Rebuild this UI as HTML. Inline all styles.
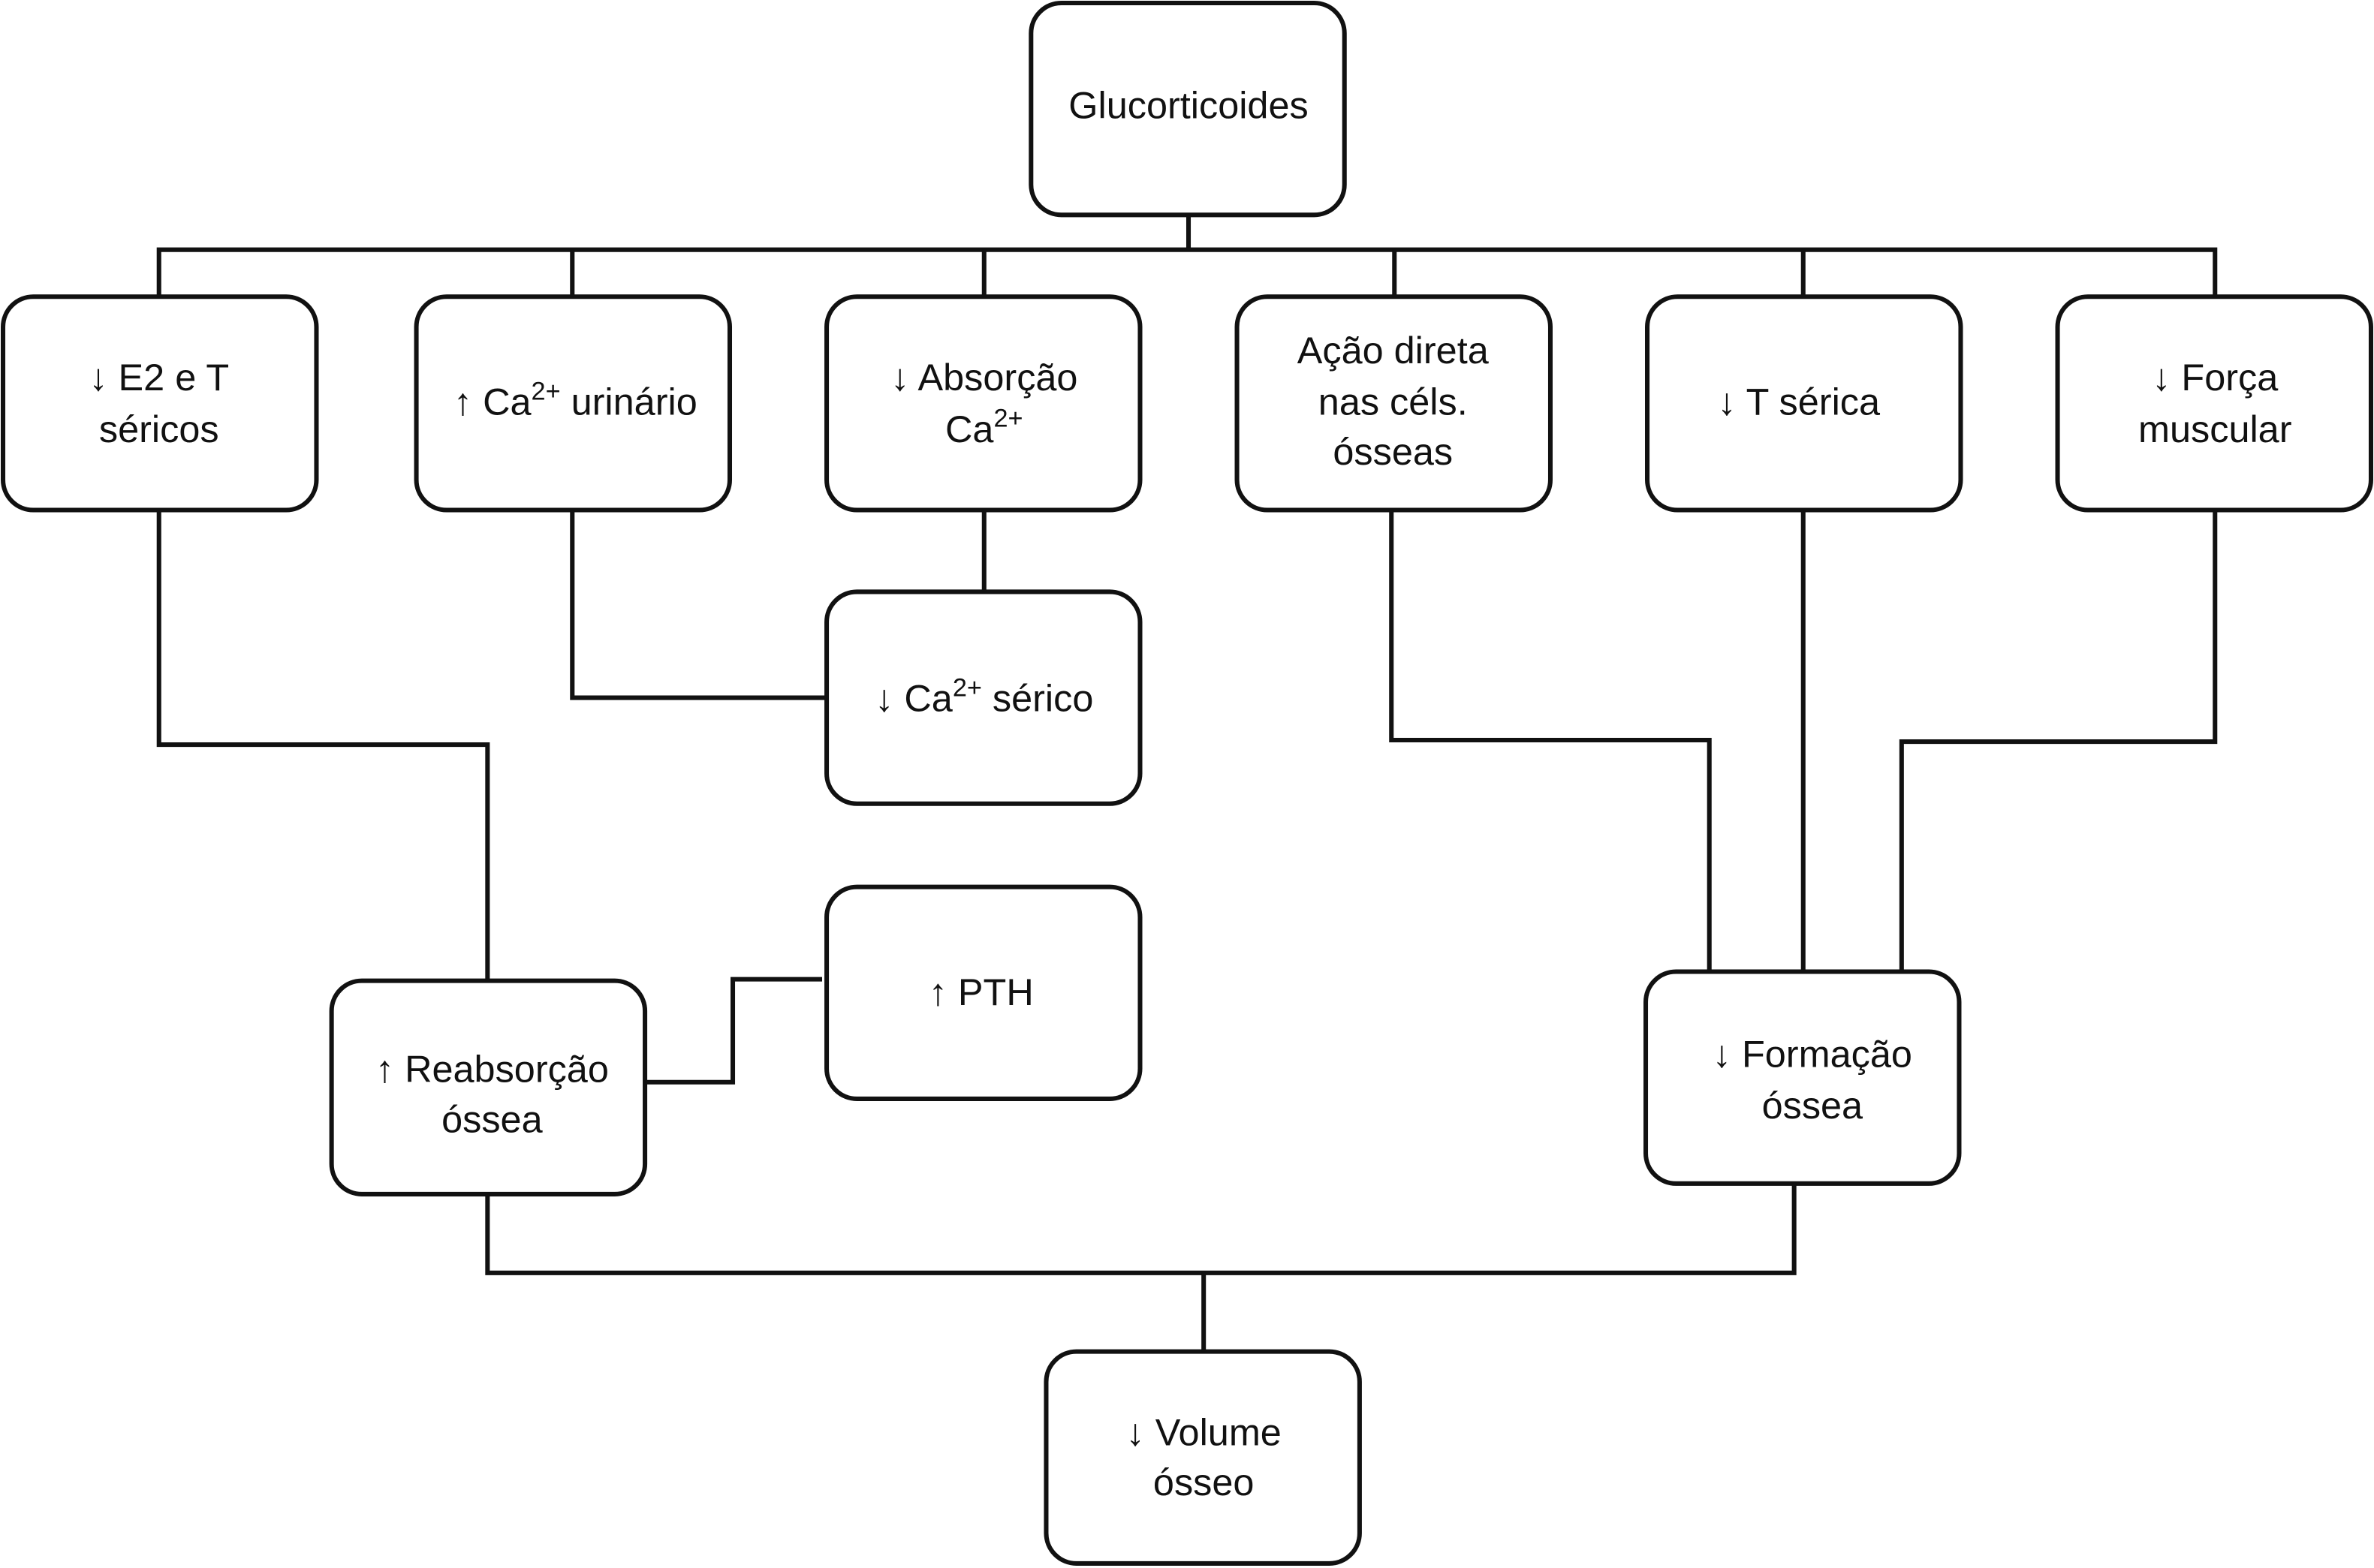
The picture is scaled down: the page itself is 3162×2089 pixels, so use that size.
<!DOCTYPE html>
<html><head><meta charset="utf-8"><style>html,body{margin:0;padding:0;background:#fff}svg{display:block}</style></head>
<body>
<svg width="3162" height="2089" viewBox="0 0 1568 1036" preserveAspectRatio="none" xmlns="http://www.w3.org/2000/svg" font-family="Liberation Sans, Arial, sans-serif" font-size="25" fill="#111">
<g fill="none" stroke="#111" stroke-width="3">
<rect x="681" y="2" width="207" height="140" rx="20"/>
<rect x="2" y="196" width="207" height="141" rx="20"/>
<rect x="275" y="196" width="207" height="141" rx="20"/>
<rect x="546" y="196" width="207" height="141" rx="20"/>
<rect x="817" y="196" width="207" height="141" rx="20"/>
<rect x="1088" y="196" width="207" height="141" rx="20"/>
<rect x="1359" y="196" width="207" height="141" rx="20"/>
<rect x="546" y="391" width="207" height="140" rx="20"/>
<rect x="546" y="586" width="207" height="140" rx="20"/>
<rect x="219" y="648" width="207" height="141" rx="20"/>
<rect x="1087" y="642" width="207" height="140" rx="20"/>
<rect x="691" y="893" width="207" height="140" rx="20"/>
<polyline points="785,142 785,165"/>
<polyline points="105,196 105,165 1463,165 1463,196"/>
<line x1="378" y1="165" x2="378" y2="196"/>
<line x1="650" y1="165" x2="650" y2="196"/>
<line x1="921" y1="165" x2="921" y2="196"/>
<line x1="1191" y1="165" x2="1191" y2="196"/>
<line x1="650" y1="337" x2="650" y2="391"/>
<polyline points="378,337 378,461 546,461"/>
<polyline points="105,337 105,492 322,492 322,648"/>
<polyline points="426,715 484,715 484,647 543,647"/>
<polyline points="919,337 919,489 1129,489 1129,642"/>
<line x1="1191" y1="337" x2="1191" y2="642"/>
<polyline points="1463,337 1463,490 1256,490 1256,642"/>
<polyline points="322,789 322,841 1185,841 1185,782"/>
<line x1="795" y1="841" x2="795" y2="893"/>
</g>
<g text-anchor="middle">
<text x="785" y="78">Glucorticoides</text>
<text x="105" y="258">↓ E2 e T</text><text x="105" y="292">séricos</text>
<text x="380" y="274">↑ Ca<tspan font-size="17" dy="-10">2+</tspan><tspan dy="10"> urinário</tspan></text>
<text x="650" y="258">↓ Absorção</text><text x="650" y="292">Ca<tspan font-size="17" dy="-10">2+</tspan></text>
<text x="920" y="240">Ação direta</text><text x="920" y="274">nas céls.</text><text x="920" y="307">ósseas</text>
<text x="1188" y="274">↓ T sérica</text>
<text x="1463" y="258">↓ Força</text><text x="1463" y="292">muscular</text>
<text x="650" y="470">↓ Ca<tspan font-size="17" dy="-10">2+</tspan><tspan dy="10"> sérico</tspan></text>
<text x="648" y="664">↑ PTH</text>
<text x="325" y="715">↑ Reabsorção</text><text x="325" y="748">óssea</text>
<text x="1197" y="705">↓ Formação</text><text x="1197" y="739">óssea</text>
<text x="795" y="955">↓ Volume</text><text x="795" y="988">ósseo</text>
</g>
</svg>
</body></html>
